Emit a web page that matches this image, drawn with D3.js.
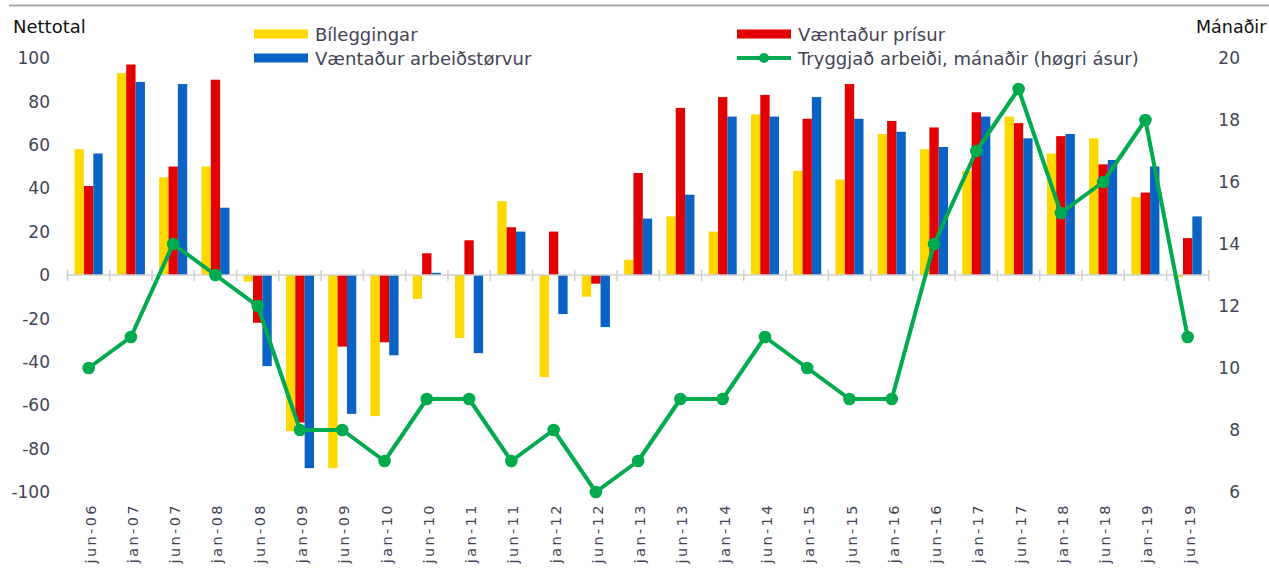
<!DOCTYPE html>
<html>
<head>
<meta charset="utf-8">
<script src="https://cdn.jsdelivr.net/npm/d3@7"></script>
<style>
  body { margin: 0; background: #fff; }
  text { font-family: "DejaVu Sans", Verdana, sans-serif; }
</style>
</head>
<body>
<svg id="chart"></svg>
<script>
const categories = ["jun-06","jan-07","jun-07","jan-08","jun-08","jan-09","jun-09","jan-10","jun-10","jan-11",
  "jun-11","jan-12","jun-12","jan-13","jun-13","jan-14","jun-14","jan-15","jun-15","jan-16",
  "jun-16","jan-17","jun-17","jan-18","jun-18","jan-19","jun-19"];
const bileggingar = [58,93,45,50,-3,-72,-89,-65,-11,-29,34,-47,-10,7,27,20,74,48,44,65,58,48,73,56,63,36,-1];
const prisur = [41,97,50,90,-22,-68,-33,-31,10,16,22,20,-4,47,77,82,83,72,88,71,68,75,70,64,51,38,17];
const arbeidstorvur = [56,89,88,31,-42,-89,-64,-37,1,-36,20,-18,-24,26,37,73,73,82,72,66,59,73,63,65,53,50,27];
const manadir = [10,11,14,13,12,8,8,7,9,9,7,8,6,7,9,9,11,10,9,9,14,17,19,15,16,18,11];
const leftTicks = [-100,-80,-60,-40,-20,0,20,40,60,80,100];
const rightTicks = [6,8,10,12,14,16,18,20];

const width = 1269, height = 570;
const colors = {bil: "#FFD800", pris: "#E30000", arb: "#0A62C4", line: "#00AA4E"};
const series = [
  {key: "bil", name: "Bíleggingar", values: bileggingar},
  {key: "pris", name: "Væntaður prísur", values: prisur},
  {key: "arb", name: "Væntaður arbeiðstørvur", values: arbeidstorvur}
];

const svg = d3.select("#chart")
  .attr("width", width)
  .attr("height", height)
  .attr("viewBox", [0, 0, width, height]);

// top rule
svg.append("line")
  .attr("x1", 9).attr("x2", width)
  .attr("y1", 5.5).attr("y2", 5.5)
  .attr("stroke", "#a6a6a6").attr("stroke-width", 2);

const x = d3.scaleBand().domain(categories).range([67.5, 1208.8]).padding(0);
const x1 = d3.scaleBand().domain(series.map(s => s.key)).range([0, x.bandwidth()])
  .paddingInner(0).paddingOuter(0.76);
const y = d3.scaleLinear().domain([-100, 100]).range([492, 58]);
const y2 = d3.scaleLinear().domain([6, 20]).range([492, 58]);

// left axis labels
svg.append("g")
  .selectAll("text")
  .data(leftTicks)
  .join("text")
  .attr("x", 50)
  .attr("y", d => y(d))
  .attr("dy", "0.36em")
  .attr("text-anchor", "end")
  .style("font-size", "17px")
  .style("fill", "#444455")
  .text(d => d);

// right axis labels
svg.append("g")
  .selectAll("text")
  .data(rightTicks)
  .join("text")
  .attr("x", 1240)
  .attr("y", d => y2(d))
  .attr("dy", "0.36em")
  .attr("text-anchor", "end")
  .style("font-size", "17px")
  .style("fill", "#444455")
  .text(d => d);

svg.append("text").attr("x", 13).attr("y", 33)
  .style("font-size", "18px").style("fill", "#111")
  .text("Nettotal");
svg.append("text").attr("x", 1196).attr("y", 33)
  .style("font-size", "17.5px").style("fill", "#111")
  .text("Mánaðir");

// bars
const group = svg.append("g")
  .selectAll("g")
  .data(categories)
  .join("g")
  .attr("transform", d => `translate(${x(d)},0)`);

group.selectAll("rect")
  .data((d, i) => series.map(s => ({key: s.key, v: s.values[i]})))
  .join("rect")
  .attr("x", d => x1(d.key))
  .attr("width", x1.bandwidth())
  .attr("y", d => y(Math.max(0, d.v)))
  .attr("height", d => Math.abs(y(d.v) - y(0)))
  .attr("fill", d => colors[d.key]);

// zero axis with category ticks
svg.append("line")
  .attr("x1", x.range()[0]).attr("x2", x.range()[1])
  .attr("y1", y(0)).attr("y2", y(0))
  .attr("stroke", "#d0d0d0").attr("stroke-width", 1.5);
svg.append("g")
  .selectAll("line")
  .data(categories.map(c => x(c)).concat([x.range()[1]]))
  .join("line")
  .attr("x1", d => d).attr("x2", d => d)
  .attr("y1", y(0) - 5).attr("y2", y(0) + 6)
  .attr("stroke", "#d0d0d0").attr("stroke-width", 1.5);

// line on right axis
const cx = d => x(d) + x.bandwidth() / 2;
svg.append("path")
  .datum(categories.map((c, i) => [cx(c), y2(manadir[i])]))
  .attr("d", d3.line())
  .attr("fill", "none")
  .attr("stroke", colors.line)
  .attr("stroke-width", 4)
  .attr("stroke-linejoin", "round");
svg.append("g")
  .selectAll("circle")
  .data(categories)
  .join("circle")
  .attr("cx", cx)
  .attr("cy", (d, i) => y2(manadir[i]))
  .attr("r", 6.3)
  .attr("fill", colors.line);

// x labels
svg.append("g")
  .selectAll("text")
  .data(categories)
  .join("text")
  .attr("transform", d => `translate(${cx(d) + 7},503) rotate(-90)`)
  .attr("text-anchor", "end")
  .style("font-size", "14.5px")
  .style("letter-spacing", "2.4px")
  .style("fill", "#444455")
  .text(d => d);

// legend
const legend = [
  {name: "Bíleggingar", color: colors.bil, x: 254, y: 34, type: "bar"},
  {name: "Væntaður arbeiðstørvur", color: colors.arb, x: 254, y: 58, type: "bar"},
  {name: "Væntaður prísur", color: colors.pris, x: 737, y: 34, type: "bar"},
  {name: "Tryggjað arbeiði, mánaðir (høgri ásur)", color: colors.line, x: 737, y: 58, type: "line"}
];
const lg = svg.append("g").selectAll("g").data(legend).join("g")
  .attr("transform", d => `translate(${d.x},${d.y})`);
lg.filter(d => d.type === "bar").append("rect")
  .attr("x", 0).attr("y", -4.5).attr("width", 54).attr("height", 9)
  .attr("fill", d => d.color);
lg.filter(d => d.type === "line").append("line")
  .attr("x1", 0).attr("x2", 54).attr("y1", 0).attr("y2", 0)
  .attr("stroke", d => d.color).attr("stroke-width", 4);
lg.filter(d => d.type === "line").append("circle")
  .attr("cx", 27).attr("cy", 0).attr("r", 5).attr("fill", d => d.color);
lg.append("text")
  .attr("x", 61).attr("y", 6.5)
  .style("font-size", "18px")
  .style("fill", "#444455")
  .text(d => d.name);
</script>
</body>
</html>
